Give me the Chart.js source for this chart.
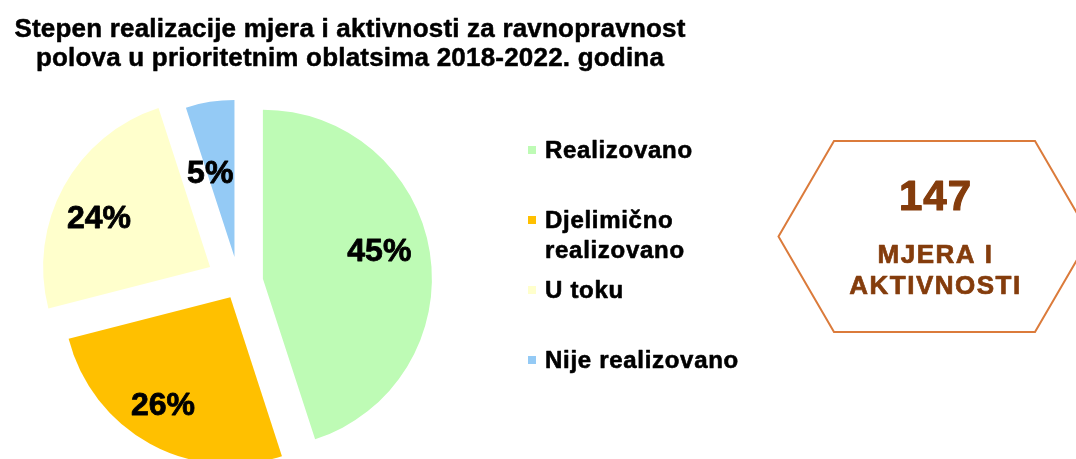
<!DOCTYPE html>
<html lang="sr">
<head>
<meta charset="UTF-8">
<title>Stepen realizacije mjera i aktivnosti</title>
<script src="https://cdn.jsdelivr.net/npm/chart.js"></script>
<style>
  html, body { margin: 0; padding: 0; background: #fff; }
  #wrap { position: relative; width: 1076px; height: 459px; overflow: hidden; }
</style>
</head>
<body>
<div id="wrap"><canvas id="pie" width="1076" height="459"></canvas></div>
<script>
// values
const titleLines = ['Stepen realizacije mjera i aktivnosti za ravnopravnost',
                    'polova u prioritetnim oblatsima 2018-2022. godina'];
const categories = ['Realizovano', 'Djelimično realizovano', 'U toku', 'Nije realizovano'];
const legendLines = [['Realizovano'], ['Djelimično', 'realizovano'], ['U toku'], ['Nije realizovano']];
const shares = [45, 26, 24, 5];
const sliceColors = ['#BEFBB5', '#FFC000', '#FFFFCC', '#94CAF5'];
const totalMeasures = '147';
const totalCaption = ['MJERA I', 'AKTIVNOSTI'];

const FONT = '"Liberation Sans", Arial, Helvetica, sans-serif';

// the office export uses a heavier bold, so fill plus a thin outline
function heavyText(c, text, x, y, weight) {
    c.lineWidth = weight;
    c.lineJoin = 'round';
    c.strokeStyle = c.fillStyle;
    c.strokeText(text, x, y);
    c.fillText(text, x, y);
}

// pulls every slice out along its own mid angle (like an exploded office pie)
const explode = {
    id: 'explode',
    afterDatasetUpdate(chart, args) {
        const pull = [24.7, 16.9, 32.4, 25.8];
        const size = [1.006, 0.994, 0.994, 0.935];
        args.meta.data.forEach((arc, i) => {
            const mid = (arc.startAngle + arc.endAngle) / 2;
            arc.x += Math.cos(mid) * pull[i];
            arc.y += Math.sin(mid) * pull[i];
            arc.outerRadius *= size[i];
        });
    }
};

// two-line title, centred over the left part of the slide
const pageTitle = {
    id: 'pageTitle',
    afterDraw(chart) {
        const c = chart.ctx;
        c.save();
        c.fillStyle = '#000';
        c.font = 'bold 26px ' + FONT;
        c.letterSpacing = '0.2px';
        c.textAlign = 'center';
        titleLines.forEach((t, i) => heavyText(c, t, 350, 37 + i * 29, 0.5));
        c.restore();
    }
};

// percentage inside each slice
const sliceLabels = {
    id: 'sliceLabels',
    afterDatasetsDraw(chart) {
        const depth = [0.71, 0.755, 0.73, 0.56];
        const turn = [-5, 3.5, -4.5, -7];
        const c = chart.ctx;
        c.save();
        c.fillStyle = '#000';
        c.font = 'bold 32px ' + FONT;
        c.textAlign = 'center';
        chart.getDatasetMeta(0).data.forEach((arc, i) => {
            const p = arc.getProps(['x', 'y', 'startAngle', 'endAngle', 'outerRadius'], true);
            const a = (p.startAngle + p.endAngle) / 2 + turn[i] * Math.PI / 180;
            const d = depth[i] * p.outerRadius;
            heavyText(c, shares[i] + '%', p.x + Math.cos(a) * d, p.y + Math.sin(a) * d + 11, 0.8);
        });
        c.restore();
    }
};

// legend with small squares, evenly stepped rows
const sideLegend = {
    id: 'sideLegend',
    afterDraw(chart) {
        const c = chart.ctx;
        const ds = chart.data.datasets[0];
        c.save();
        c.font = 'bold 24px ' + FONT;
        c.letterSpacing = '0.7px';
        c.textAlign = 'left';
        chart.data.labels.forEach((lab, i) => {
            const base = 158 + i * 70;
            c.fillStyle = ds.backgroundColor[i];
            c.fillRect(528, base - 12, 8, 8);
            c.fillStyle = '#000';
            legendLines[i].forEach((ln, j) => heavyText(c, ln, 545, base + j * 30, 0.6));
        });
        c.restore();
    }
};

// hexagon badge with the total count
const totalBadge = {
    id: 'totalBadge',
    afterDraw(chart) {
        const c = chart.ctx;
        const cx = 934.5, cy = 236.5, hh = 95.5, hw = 100.5, tip = 55.5;
        c.save();
        c.beginPath();
        c.moveTo(cx - hw - tip, cy);
        c.lineTo(cx - hw, cy - hh);
        c.lineTo(cx + hw, cy - hh);
        c.lineTo(cx + hw + tip, cy);
        c.lineTo(cx + hw, cy + hh);
        c.lineTo(cx - hw, cy + hh);
        c.closePath();
        c.strokeStyle = '#DB7B3B';
        c.lineWidth = 2;
        c.stroke();
        c.fillStyle = '#843C0C';
        c.textAlign = 'center';
        c.font = 'bold 42px ' + FONT;
        c.letterSpacing = '1px';
        heavyText(c, totalMeasures, cx + 1, 210, 1.2);
        c.font = 'bold 26px ' + FONT;
        c.letterSpacing = '1.5px';
        totalCaption.forEach((t, i) => heavyText(c, t, cx + 1, 263 + i * 30.6, 0.7));
        c.restore();
    }
};

new Chart(document.getElementById('pie'), {
    type: 'pie',
    data: {
        labels: categories,
        datasets: [{
            data: shares,
            backgroundColor: sliceColors,
            borderWidth: 0,
            clip: false
        }]
    },
    options: {
        responsive: false,
        animation: false,
        radius: 168,
        layout: { padding: { left: 0, right: 599, top: 106, bottom: 0 } },
        plugins: {
            legend: { display: false },
            title: { display: false },
            tooltip: { enabled: false }
        }
    },
    plugins: [explode, pageTitle, sliceLabels, sideLegend, totalBadge]
});
</script>
</body>
</html>
